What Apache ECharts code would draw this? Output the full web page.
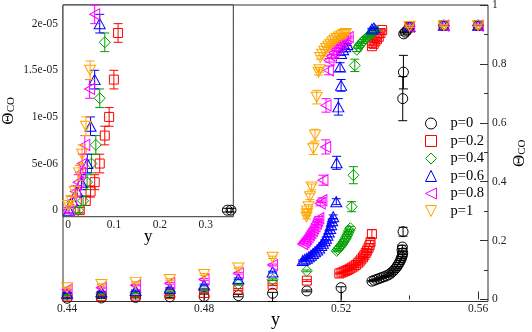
<!DOCTYPE html>
<html>
<head>
<meta charset="utf-8">
<script src="https://cdn.jsdelivr.net/npm/echarts@6/dist/echarts.min.js"></script>
<style>html,body{margin:0;padding:0;background:#fff}#c{width:532px;height:332px}</style>
</head>
<body>
<div id="c"></div>
<script>
// ---------- tick values / labels ----------
const mainXTicks = [0.44, 0.48, 0.52, 0.56];
const mainXTickLabels = ['0.44', '0.48', '0.52', '0.56'];
const mainXMinor = [0.46, 0.50, 0.54];
const mainYTicks = [0, 0.2, 0.4, 0.6, 0.8, 1];
const mainYTickLabels = ['0', '0.2', '0.4', '0.6', '0.8', '1'];
const mainYMinor = [0.1, 0.3, 0.5, 0.7, 0.9];
const insetXTicks = [0, 0.1, 0.2, 0.3];
const insetXTickLabels = ['0', '0.1', '0.2', '0.3'];
const insetXMinor = [0.05, 0.15, 0.25, 0.35];
const insetYTicks = [0, 5e-6, 1e-5, 1.5e-5, 2e-5];
const insetYTickLabels = ['0', '5e-06', '1e-05', '1.5e-05', '2e-05'];
const insetYMinor = [2.5e-6, 7.5e-6, 1.25e-5, 1.75e-5];

// ---------- series names ----------
const seriesNames = ['p=0', 'p=0.2', 'p=0.4', 'p=0.6', 'p=0.8', 'p=1'];

// ---------- main plot data: [y, Theta_CO, err(low), err(high, optional)] ----------
const mainP0 = [
  [0.44, 0.004, 0.002], [0.45, 0.005, 0.002], [0.46, 0.007, 0.002], [0.47, 0.009, 0.003],
  [0.48, 0.010, 0.017, 0.008], [0.49, 0.013, 0.004], [0.50, 0.021, 0.028, 0.003], [0.51, 0.029, 0.003],
  [0.52, 0.040, 0.047, 0.003],
  [0.5290, 0.062, 0.002], [0.5297, 0.065, 0.002], [0.5304, 0.068, 0.002], [0.5311, 0.071, 0.002],
  [0.5318, 0.074, 0.002], [0.5325, 0.077, 0.002], [0.5332, 0.080, 0.002], [0.5339, 0.084, 0.002],
  [0.5345, 0.089, 0.002], [0.5351, 0.095, 0.002], [0.5356, 0.101, 0.002], [0.5361, 0.108, 0.002],
  [0.5365, 0.115, 0.003], [0.5369, 0.122, 0.003], [0.5372, 0.129, 0.003], [0.5375, 0.136, 0.003],
  [0.5377, 0.143, 0.003], [0.5379, 0.150, 0.004], [0.5380, 0.158, 0.004], [0.5378, 0.168, 0.005],
  [0.5379, 0.178, 0.006], [0.5381, 0.230, 0.015],
  [0.5380, 0.682, 0.075], [0.5382, 0.772, 0.057],
  [0.5383, 0.902, 0.004], [0.5388, 0.908, 0.003], [0.5394, 0.915, 0.003],
  [0.54, 0.925, 0.003], [0.55, 0.930, 0.003], [0.56, 0.930, 0.003]
];
const mainP02 = [
  [0.44, 0.010, 0.002], [0.45, 0.011, 0.002], [0.46, 0.013, 0.002], [0.47, 0.018, 0.002],
  [0.48, 0.022, 0.003], [0.49, 0.034, 0.003], [0.50, 0.050, 0.003], [0.51, 0.064, 0.003],
  [0.5195, 0.088, 0.002], [0.5201, 0.091, 0.002], [0.5207, 0.094, 0.002], [0.5213, 0.097, 0.002],
  [0.5219, 0.100, 0.002], [0.5225, 0.104, 0.002], [0.5231, 0.108, 0.002], [0.5237, 0.112, 0.002],
  [0.5243, 0.117, 0.002], [0.5249, 0.123, 0.003], [0.5254, 0.129, 0.003], [0.5259, 0.136, 0.003],
  [0.5264, 0.143, 0.003], [0.5268, 0.150, 0.003], [0.5272, 0.158, 0.004], [0.5276, 0.166, 0.004],
  [0.5280, 0.175, 0.005], [0.5283, 0.184, 0.005], [0.5286, 0.195, 0.006], [0.5290, 0.222, 0.015],
  [0.5290, 0.860, 0.004], [0.5295, 0.868, 0.004], [0.5300, 0.876, 0.003], [0.5305, 0.884, 0.003],
  [0.5310, 0.892, 0.003], [0.5315, 0.905, 0.003], [0.5320, 0.915, 0.003],
  [0.54, 0.925, 0.003], [0.55, 0.931, 0.003], [0.56, 0.931, 0.003]
];
const mainP04 = [
  [0.44, 0.015, 0.002], [0.45, 0.019, 0.002], [0.46, 0.023, 0.002], [0.47, 0.027, 0.002],
  [0.48, 0.035, 0.003], [0.49, 0.052, 0.003], [0.50, 0.067, 0.003], [0.51, 0.097, 0.003],
  [0.5187, 0.165, 0.003], [0.5191, 0.170, 0.003], [0.5195, 0.176, 0.003], [0.5199, 0.182, 0.003],
  [0.5203, 0.188, 0.003], [0.5207, 0.195, 0.003], [0.5211, 0.202, 0.004], [0.5215, 0.210, 0.004],
  [0.5218, 0.218, 0.004], [0.5221, 0.226, 0.005], [0.5224, 0.234, 0.005], [0.5227, 0.242, 0.006],
  [0.5231, 0.315, 0.017], [0.5236, 0.422, 0.029],
  [0.5240, 0.795, 0.021], [0.5246, 0.848, 0.006], [0.5251, 0.858, 0.005], [0.5256, 0.866, 0.005],
  [0.5261, 0.873, 0.004], [0.5266, 0.879, 0.004], [0.5271, 0.885, 0.004], [0.5276, 0.890, 0.003],
  [0.5281, 0.895, 0.003], [0.5286, 0.900, 0.003], [0.5291, 0.905, 0.003], [0.5296, 0.910, 0.003],
  [0.5301, 0.915, 0.003],
  [0.54, 0.926, 0.003], [0.55, 0.931, 0.003], [0.56, 0.931, 0.003]
];
const mainP06 = [
  [0.44, 0.022, 0.002], [0.45, 0.026, 0.002], [0.46, 0.030, 0.002], [0.47, 0.038, 0.002],
  [0.48, 0.049, 0.003], [0.49, 0.070, 0.003], [0.50, 0.093, 0.003],
  [0.5088, 0.132, 0.002], [0.5094, 0.136, 0.002], [0.5100, 0.140, 0.002], [0.5106, 0.145, 0.002],
  [0.5112, 0.150, 0.002], [0.5118, 0.156, 0.002], [0.5124, 0.162, 0.002], [0.5130, 0.168, 0.003],
  [0.5136, 0.175, 0.003], [0.5142, 0.183, 0.003], [0.5147, 0.191, 0.003], [0.5152, 0.199, 0.003],
  [0.5156, 0.208, 0.004], [0.5160, 0.218, 0.004], [0.5164, 0.229, 0.004], [0.5168, 0.241, 0.005],
  [0.5171, 0.254, 0.005], [0.5174, 0.267, 0.006], [0.5177, 0.281, 0.006],
  [0.5186, 0.332, 0.010], [0.5187, 0.464, 0.022], [0.5192, 0.654, 0.028], [0.5200, 0.727, 0.020],
  [0.5197, 0.789, 0.015],
  [0.5200, 0.835, 0.006], [0.5206, 0.848, 0.005], [0.5212, 0.858, 0.005], [0.5218, 0.866, 0.004],
  [0.5290, 0.918, 0.003], [0.5296, 0.922, 0.003],
  [0.54, 0.927, 0.003], [0.55, 0.931, 0.003], [0.56, 0.931, 0.003]
];
const mainP08 = [
  [0.44, 0.033, 0.002], [0.45, 0.040, 0.002], [0.46, 0.048, 0.002], [0.47, 0.055, 0.003],
  [0.48, 0.068, 0.003], [0.49, 0.089, 0.003], [0.50, 0.117, 0.003],
  [0.5088, 0.188, 0.003], [0.5092, 0.194, 0.003], [0.5096, 0.200, 0.003], [0.5100, 0.206, 0.003],
  [0.5104, 0.212, 0.003], [0.5108, 0.219, 0.003], [0.5112, 0.226, 0.004], [0.5116, 0.233, 0.004],
  [0.5120, 0.241, 0.004], [0.5124, 0.249, 0.005], [0.5128, 0.258, 0.005], [0.5132, 0.267, 0.005],
  [0.5135, 0.276, 0.006],
  [0.5139, 0.326, 0.008], [0.5144, 0.337, 0.008], [0.5147, 0.405, 0.017], [0.5155, 0.518, 0.024],
  [0.5156, 0.659, 0.023], [0.5163, 0.778, 0.015],
  [0.5165, 0.812, 0.006], [0.5172, 0.826, 0.005], [0.5179, 0.838, 0.005], [0.5186, 0.849, 0.004],
  [0.5193, 0.859, 0.004], [0.5200, 0.868, 0.004], [0.5207, 0.876, 0.003], [0.5214, 0.884, 0.003],
  [0.5221, 0.891, 0.003],
  [0.54, 0.926, 0.003], [0.55, 0.930, 0.003], [0.56, 0.930, 0.003]
];
const mainP1 = [
  [0.44, 0.040, 0.002], [0.45, 0.051, 0.002], [0.46, 0.058, 0.002], [0.47, 0.068, 0.003],
  [0.48, 0.085, 0.003], [0.49, 0.107, 0.003], [0.50, 0.143, 0.004],
  [0.5099, 0.280, 0.006], [0.5100, 0.290, 0.006], [0.5101, 0.300, 0.006], [0.5105, 0.315, 0.007],
  [0.5109, 0.349, 0.010], [0.5114, 0.382, 0.010],
  [0.5119, 0.512, 0.020], [0.5124, 0.558, 0.020], [0.5129, 0.687, 0.023], [0.5134, 0.772, 0.010],
  [0.5137, 0.780, 0.008],
  [0.5139, 0.822, 0.006], [0.5145, 0.833, 0.005], [0.5151, 0.843, 0.005], [0.5157, 0.852, 0.004],
  [0.5163, 0.860, 0.004], [0.5169, 0.867, 0.004], [0.5175, 0.874, 0.004], [0.5181, 0.880, 0.003],
  [0.5187, 0.886, 0.003], [0.5194, 0.891, 0.003], [0.5201, 0.896, 0.003], [0.5208, 0.900, 0.003],
  [0.5214, 0.903, 0.003],
  [0.54, 0.927, 0.003], [0.55, 0.930, 0.003], [0.56, 0.930, 0.003]
];

// ---------- inset data: [y, Theta_CO, err] ----------
const insetP0 = [[0.347, 0, 2e-7], [0.355, 0, 2e-7]];
const insetP02 = [
  [0.0255, 0, 3e-7], [0.0386, 1e-6, 5e-7], [0.049, 2e-6, 6e-7], [0.058, 3e-6, 8e-7],
  [0.069, 5e-6, 1e-6], [0.080, 8e-6, 1e-6], [0.0895, 1e-5, 1e-6], [0.0998, 1.4e-5, 1e-6],
  [0.109, 1.9e-5, 1e-6]
];
const insetP04 = [
  [0.022, 0, 3e-7], [0.0328, 1e-6, 5e-7], [0.0415, 3e-6, 8e-7], [0.051, 5e-6, 1e-6],
  [0.0605, 7e-6, 1e-6], [0.069, 1.2e-5, 1e-6], [0.080, 1.8e-5, 1e-6]
];
const insetP06 = [
  [0.002, 0, 3e-7], [0.0096, 1e-6, 5e-7], [0.020, 2e-6, 6e-7], [0.029, 3e-6, 8e-7],
  [0.042, 5e-6, 1e-6], [0.049, 9e-6, 1e-6], [0.058, 1.4e-5, 1e-6], [0.069, 2e-5, 1e-6]
];
const insetP08 = [
  [0.000, 0, 3e-7], [0.008, 1e-6, 5e-7], [0.016, 2e-6, 6e-7], [0.022, 3e-6, 8e-7],
  [0.027, 4e-6, 8e-7], [0.031, 5e-6, 1e-6], [0.0365, 7e-6, 1e-6], [0.047, 1.3e-5, 1e-6],
  [0.058, 2.1e-5, 1e-6]
];
const insetP1 = [
  [0.000, 5e-7, 3e-7], [0.0074, 1e-6, 5e-7], [0.0146, 2e-6, 6e-7], [0.024, 4e-6, 8e-7],
  [0.0305, 6e-6, 1e-6], [0.039, 9e-6, 1e-6], [0.048, 1.5e-5, 1e-6]
];

// ---------- styling ----------
const colors = ['#000000', '#ff0000', '#00a000', '#0000ff', '#ff00ff', '#ffa500'];
const symbols = ['circle', 'rect', 'diamond', 'triangle', 'path://M0,5L10,0L10,10Z', 'path://M0,0L10,0L5,10Z'];
const symSizes = [10, 9, 11, [11, 10], [10, 11], [11, 10]];
const FONT = '"Liberation Serif", "Times New Roman", serif';
const AX = '#333';

const mainSets = [mainP0, mainP02, mainP04, mainP06, mainP08, mainP1];
const insetSets = [insetP0, insetP02, insetP04, insetP06, insetP08, insetP1];

function labelFor(ticks, labels) {
  return function (v) {
    for (let i = 0; i < ticks.length; i++) if (Math.abs(ticks[i] - v) < 1e-12) return labels[i];
    return '';
  };
}
function norm(d) { return d.map(p => [p[0], p[1], p[2], p.length > 3 ? p[3] : p[2]]); }

function errRender(color) {
  return function (params, api) {
    const x = api.value(0), y = api.value(1), lo = api.value(2), hi = api.value(3);
    const a = api.coord([x, y - lo]);
    const b = api.coord([x, y + hi]);
    const w = 4.5;
    const st = { stroke: color, lineWidth: 1, fill: null };
    return {
      type: 'group', children: [
        { type: 'line', shape: { x1: a[0], y1: a[1], x2: b[0], y2: b[1] }, style: st },
        { type: 'line', shape: { x1: a[0] - w, y1: a[1], x2: a[0] + w, y2: a[1] }, style: st },
        { type: 'line', shape: { x1: b[0] - w, y1: b[1], x2: b[0] + w, y2: b[1] }, style: st }
      ]
    };
  };
}

const series = [];
function addSets(sets, xi, yi) {
  sets.forEach((d, i) => {
    const data = norm(d);
    series.push({
      type: 'custom', xAxisIndex: xi, yAxisIndex: yi, silent: true,
      renderItem: errRender(colors[i]), data: data,
      encode: { x: 0, y: 1 }, z: 2 + i * 0.01
    });
    series.push({
      type: 'scatter', name: seriesNames[i], xAxisIndex: xi, yAxisIndex: yi,
      data: data.map(p => [p[0], p[1]]), symbol: symbols[i], symbolSize: symSizes[i],
      itemStyle: { color: 'rgba(0,0,0,0)', borderColor: colors[i], borderWidth: 1, opacity: 1 },
      emphasis: { disabled: true }, z: 2 + i * 0.01 + 0.005
    });
  });
}
addSets(mainSets, 0, 0);
addSets(insetSets, 2, 2);

function tickAxis(base, vals, len, showLabel, labels) {
  return Object.assign({
    type: 'value', splitLine: { show: false },
    axisLine: { show: false }, nameMoveOverlap: false,
    axisTick: { show: true, inside: true, length: len, customValues: vals, lineStyle: { color: AX, width: 1 } },
    axisLabel: showLabel ? {
      show: true, customValues: vals, formatter: labelFor(vals, labels),
      fontFamily: FONT, fontSize: 11.5, color: '#222'
    } : { show: false }
  }, base);
}

const subRich = {
  t: { fontFamily: FONT, fontSize: 17, color: '#000', lineHeight: 17, verticalAlign: 'top' },
  s: { fontFamily: FONT, fontSize: 11, color: '#000', lineHeight: 11, verticalAlign: 'bottom', padding: [8, 0, 0, 0] }
};

const option = {
  animation: false,
  backgroundColor: '#fff',
  grid: [
    { left: 63, top: 5, width: 425, height: 296.5, show: true, borderColor: AX, borderWidth: 1, backgroundColor: 'rgba(0,0,0,0)', z: 0, containLabel: false, outerBoundsMode: 'none' },
    { left: 63, top: 5, width: 170.3, height: 211.7, show: true, borderColor: AX, borderWidth: 1, backgroundColor: '#fff', z: 1, containLabel: false, outerBoundsMode: 'none' }
  ],
  xAxis: [
    tickAxis({ gridIndex: 0, min: 0.4388, max: 0.5629, position: 'bottom',
      name: 'y', nameLocation: 'middle', nameGap: 10,
      nameTextStyle: { fontFamily: FONT, fontSize: 18, color: '#000' },
      axisLabel: { show: true, customValues: mainXTicks, formatter: labelFor(mainXTicks, mainXTickLabels), fontFamily: FONT, fontSize: 11.5, color: '#222', margin: 1 }
    }, mainXTicks, 8, true, mainXTickLabels),
    tickAxis({ gridIndex: 0, min: 0.4388, max: 0.5629, position: 'bottom' }, mainXMinor, 4, false),
    tickAxis({ gridIndex: 1, min: -0.011, max: 0.36, position: 'bottom',
      name: 'y', nameLocation: 'middle', nameGap: 11,
      nameTextStyle: { fontFamily: FONT, fontSize: 17, color: '#000' },
      axisLabel: { show: true, customValues: insetXTicks, formatter: labelFor(insetXTicks, insetXTickLabels), fontFamily: FONT, fontSize: 11.5, color: '#222', margin: 2 }
    }, insetXTicks, 7, true, insetXTickLabels),
    tickAxis({ gridIndex: 1, min: -0.011, max: 0.36, position: 'bottom' }, insetXMinor, 4, false)
  ],
  yAxis: [
    tickAxis({ gridIndex: 0, min: -0.007, max: 1, position: 'right',
      name: '{t|Θ}{s|CO}', nameLocation: 'middle', nameRotate: 90, nameGap: 23,
      nameTextStyle: { rich: subRich },
      axisLabel: { show: true, customValues: mainYTicks, formatter: labelFor(mainYTicks, mainYTickLabels), fontFamily: FONT, fontSize: 11.5, color: '#222', margin: 4 }
    }, mainYTicks, 8, true, mainYTickLabels),
    tickAxis({ gridIndex: 0, min: -0.007, max: 1, position: 'right' }, mainYMinor, 4, false),
    tickAxis({ gridIndex: 1, min: -7e-7, max: 2.2e-5, position: 'left',
      name: '{t|Θ}{s|CO}', nameLocation: 'middle', nameRotate: 90, nameGap: 46,
      nameTextStyle: { rich: subRich },
      axisLabel: { show: true, customValues: insetYTicks, formatter: labelFor(insetYTicks, insetYTickLabels), fontFamily: FONT, fontSize: 11.5, color: '#222', margin: 5 }
    }, insetYTicks, 7, true, insetYTickLabels),
    tickAxis({ gridIndex: 1, min: -7e-7, max: 2.2e-5, position: 'left' }, insetYMinor, 4, false),
    tickAxis({ gridIndex: 1, min: -7e-7, max: 2.2e-5, position: 'right' }, insetYTicks, 7, false),
    tickAxis({ gridIndex: 1, min: -7e-7, max: 2.2e-5, position: 'right' }, insetYMinor, 4, false)
  ],
  legend: {
    orient: 'vertical', left: 425, top: 116, padding: 0,
    itemWidth: 11, itemHeight: 11, itemGap: 2.5,
    selectedMode: false,
    formatter: n => '{sp|}{t|' + n + '}',
    textStyle: {
      fontFamily: FONT, fontSize: 14.5, color: '#000', lineHeight: 11,
      rich: {
        sp: { width: 9, height: 11, lineHeight: 11 },
        t: { fontFamily: FONT, fontSize: 14.5, color: '#000', lineHeight: 11 }
      }
    },
    data: seriesNames.map((n, i) => ({
      name: n, icon: symbols[i],
      itemStyle: { color: 'rgba(0,0,0,0)', borderColor: colors[i], borderWidth: 1 }
    }))
  },
  series: series
};

const chart = echarts.init(document.getElementById('c'), null, { renderer: 'canvas' });
chart.setOption(option);
</script>
</body>
</html>
